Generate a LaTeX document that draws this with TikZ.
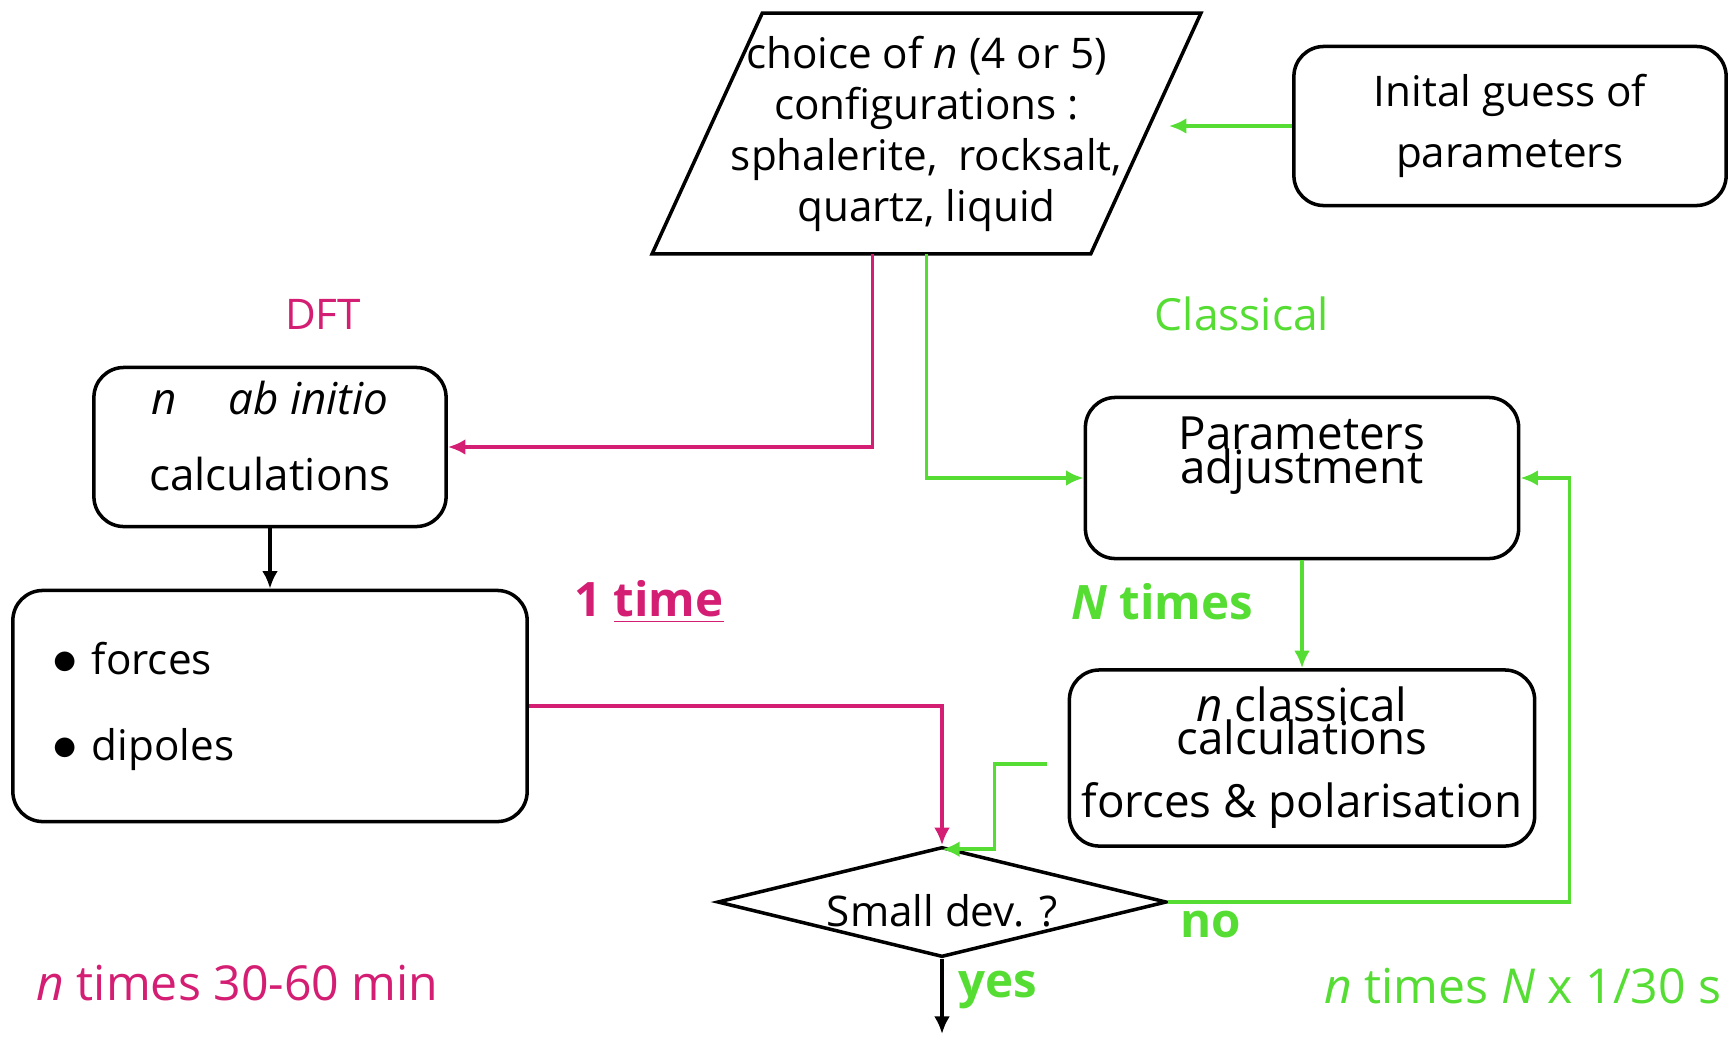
\documentclass[tikz,border=0pt]{standalone}
\usepackage{fontspec}
\setmainfont{Open Sans}
\usetikzlibrary{positioning, shapes.geometric, arrows.meta}

\definecolor{dftpink}{RGB}{212,30,115}
\definecolor{clgreen}{RGB}{85,221,51}

\begin{document}
\begin{tikzpicture}[
    x=0.01cm, y=-0.01cm,
    every node/.style={font=\fontsize{12}{14.5}\selectfont},
    box/.style={draw, rounded corners=0.3cm, line width=1pt, align=center, inner sep=0pt},
    config/.style={align=center, inner sep=0pt, minimum width=5.47cm, minimum height=2.39cm},
    test/.style={diamond, draw, line width=1pt, shape aspect=4, inner sep=0pt,
        minimum width=4.49cm, minimum height=1.1cm},
    dft_line/.style={-{Latex[length=5pt, width=4.5pt]}, line width=1pt, dftpink},
    cl_line/.style={-{Latex[length=5pt, width=4.5pt]}, line width=1pt, clgreen},
    flow/.style={-{Latex[length=5pt, width=4.5pt]}, line width=1pt, black},
    dft_label/.style={text=dftpink},
    cl_label/.style={text=clgreen},
    big_label/.style={font=\fontsize{13.5}{16}\selectfont\bfseries},
    time_label/.style={font=\fontsize{13.7}{16}\selectfont, inner sep=0pt}
]
    \useasboundingbox (0,0) rectangle (1731,1036);

    % --- TOP: CONFIGURATIONS AND INITIAL GUESS ---
    \node[config] (para) at (926.5,133.5) {choice of \textit{n} (4 or 5)\\ configurations :\\ sphalerite,\enspace rocksalt,\\ quartz, liquid};
    \draw[line width=1pt] ([xshift=1.1cm]para.north west) -- (para.north east)
        -- ([xshift=-1.1cm]para.south east) -- (para.south west) -- cycle;
    \node[box, minimum width=4.32cm, minimum height=1.59cm, font=\fontsize{12}{17.4}\selectfont] (guess) at (1510,126) {Inital guess of\\ parameters};

    \node[dft_label] (dft) at (323,314) {DFT};
    \node[cl_label, font=\fontsize{12.6}{15}\selectfont] (classical) at (1242,314) {Classical};

    % --- DFT BRANCH ---
    \node[box, minimum width=3.52cm, minimum height=1.59cm, font=\fontsize{12.5}{21.6}\selectfont] (abinitio) at (270,447) {\textit{n}\quad\,\textit{ab initio}\\ calculations\rule[-0.22cm]{0pt}{0pt}};
    \node[box, minimum width=5.14cm, minimum height=2.31cm, align=left, text width=4.35cm] (forces) at (270,706) {{\Large$\bullet$}\ forces\\[10pt] {\Large$\bullet$}\ dipoles};
    \node[dft_label, big_label] (once) at (649,602) {1 \underline{time}};

    % --- CLASSICAL BRANCH ---
    \node[box, minimum width=4.33cm, minimum height=1.61cm] (params) at (1302,478) {};
    \node[below=0.09cm of params.north, align=center, font=\fontsize{13}{15.5}\selectfont] (paramstxt) {Parameters\\[-6pt]adjustment};
    \node[cl_label, big_label] (ntimes) at (1162,602) {\textit{N} times};
    \node[box, minimum width=4.65cm, minimum height=1.76cm, font=\fontsize{13}{15.5}\selectfont] (nclass) at (1302,758) {\textit{n} classical\\[-6.3pt] calculations\\[2.6pt] forces \& polarisation};

    % --- TEST ---
    \node[test] (dev) at (942,902) {Small dev. ?\rule{0pt}{0.5cm}};
    \node[cl_label, big_label] (no) at (1211,925) {no};
    \node[cl_label, big_label] (yes) at (998,990) {yes};
    \coordinate (out) at (942,1034);

    % --- TIMINGS ---
    \node[dft_label, time_label, anchor=west] (dfttime) at (36,983) {\textit{n} times 30-60 min};
    \node[cl_label, time_label, anchor=east] (cltime) at (1722,986) {\textit{n} times \textit{N} x 1/30 s};

    % --- CONNECTIONS ---
    \draw[cl_line] (guess.west) -- ([xshift=-0.32cm]guess.west -| para.east);
    \draw[dft_line] ([xshift=-0.54cm]para.south) |- (abinitio.east);
    \draw[cl_line] (para.south) |- (params.west);
    \draw[flow] (abinitio) -- (forces);
    \draw[cl_line] (params) -- (nclass);
    \draw[dft_line] (forces.east) -| (dev.north);
    \draw[cl_line] ([xshift=-0.21cm, yshift=-0.06cm]nclass.west) -- ++(-0.52cm,0) |- ([yshift=-0.04cm]dev.north);
    \draw[cl_line] (dev.east) -- ++(4.01cm,0) |- (params.east);
    \draw[flow] (dev) -- (out);

\end{tikzpicture}
\end{document}
